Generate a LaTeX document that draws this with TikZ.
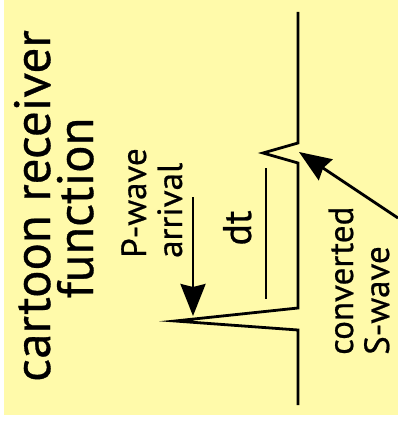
\documentclass[tikz,border=0pt]{standalone}
\usepackage{fontspec}
\setmainfont{PT Sans}[FakeBold=0.6]
\usetikzlibrary{arrows.meta}
\definecolor{paper}{RGB}{255,250,170}
\tikzset{
  trace/.style={line width=2.8pt, black, miter limit=20},
  pointer/.style={line width=2.8pt, black, -{Stealth[length=32pt,width=25pt,inset=3pt]}},
  bigtext/.style={rotate=90, inner sep=0pt, font=\fontsize{51}{51}\selectfont},
  smalltext/.style={rotate=90, inner sep=0pt, text depth=0pt, font=\fontsize{35}{35}\selectfont},
}
\begin{document}
\begin{tikzpicture}[x=1pt, y=-1pt]
  % page and paper
  \useasboundingbox (0,0) rectangle (398,425);
  \fill[white] (0,0) rectangle (398,425);
  \fill[paper] (4,0) rectangle (398,415);

  % trace points
  \coordinate (top) at (298,12);
  \coordinate (s1) at (298,143);
  \coordinate (stip) at (263,153);
  \coordinate (s2) at (298,163);
  \coordinate (p1) at (298,308);
  \coordinate (ptip) at (175,321);
  \coordinate (p2) at (298,330);
  \coordinate (bottom) at (298,405);

  % receiver function trace
  \draw[trace] (top) -- (s1) -- (stip) -- (s2) -- (p1) -- (ptip) -- (p2) -- (bottom);

  % delay time bar
  \coordinate (dta) at (266,168);
  \coordinate (dtb) at (266,299);
  \draw[line width=2.8pt] (dta) -- (dtb);
  \node[smalltext, anchor=base, font=\fontsize{40}{40}\selectfont] (dt) at (251,228) {dt};

  % arrows
  \coordinate (parrowstart) at (193,197);
  \coordinate (parrowtip) at (193,316);
  \draw[pointer] (parrowstart) -- (parrowtip);
  \coordinate (sarrowstart) at (398,218);
  \coordinate (sarrowtip) at (299,152);
  \draw[pointer] (sarrowstart) -- (sarrowtip);

  % labels
  \node[bigtext, anchor=base] (title1) at (50,206) {cartoon receiver};
  \node[bigtext, anchor=base] (title2) at (93,208) {function};
  \node[smalltext, anchor=base west] (pw1) at (146,258) {P-wave};
  \node[smalltext, anchor=base west] (pw2) at (182,258) {arrival};
  \node[smalltext, anchor=base west] (sw1) at (353,355) {converted};
  \node[smalltext, anchor=base west] (sw2) at (389,355) {S-wave};
\end{tikzpicture}
\end{document}
